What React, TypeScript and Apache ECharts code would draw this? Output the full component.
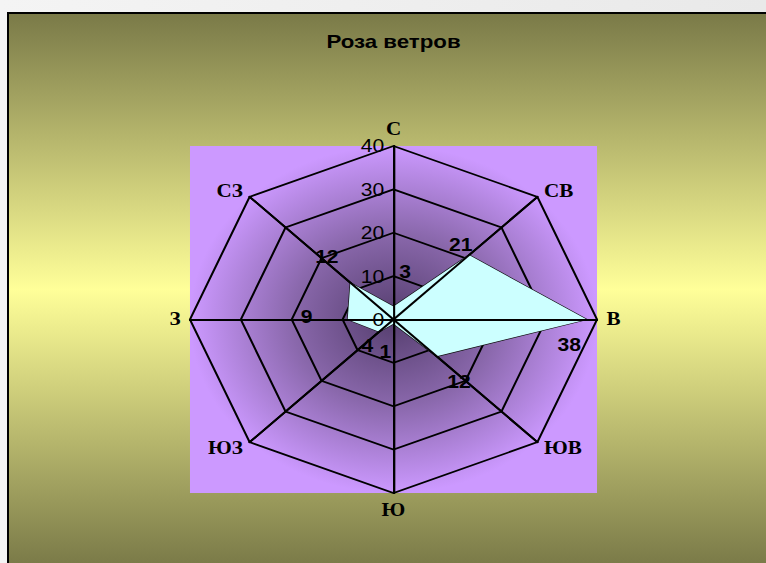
import React, { useEffect, useRef } from 'react';
import * as echarts from 'echarts';

// ---- data (compass order, clockwise from north) ----
const directions = ['С', 'СВ', 'В', 'ЮВ', 'Ю', 'ЮЗ', 'З', 'СЗ'];
const frequencies = [3, 21, 38, 12, 1, 4, 9, 12];
const axisMax = 40;
const axisSplits = 4;
const chartTitle = 'Роза ветров';

// label nudges (px) for each direction's data label, compass order
const labelOffsets = [
  [10, -35], [-7, -11], [-15, 25], [19, 25], [-7, 28], [-10, 14], [-35, -3], [-20, -26],
];

// ---- layout ----
const PAGE_W = 766;
const PAGE_H = 563;
const SX = 1.173; // horizontal stretch of the original picture
const CHART_W = PAGE_W / SX;
const CX = 393.5 / SX;
const CY = 319.5;
const R = 173.5;

// ECharts lays radar indicators counter-clockwise from the top
const order = [0, 7, 6, 5, 4, 3, 2, 1];

const SANS = 'Liberation Sans, Arial, sans-serif';
const SERIF = 'Liberation Serif, Times New Roman, serif';

export default function App() {
  const ref = useRef<HTMLDivElement>(null);

  useEffect(() => {
    const chart = echarts.init(ref.current!, null, { renderer: 'svg' });
    const indNames = order.map((i) => directions[i]);
    const vals = order.map((i) => frequencies[i]);

    const baseIndicator = indNames.map((name) => ({ name, min: 0, max: axisMax }));
    const overlayIndicator = indNames.map((name, k) => ({
      name,
      min: 0,
      max: axisMax,
      axisLabel: { show: k === 0 },
    }));

    const labelItems = order.map((src, k) => ({
      value: order.map((_, j) => (j === k ? frequencies[src] : null)),
      symbol: 'circle',
      symbolSize: 0,
      itemStyle: { color: 'rgba(0,0,0,0)' },
      lineStyle: { width: 0, opacity: 0 },
      label: {
        show: true,
        position: 'inside',
        offset: labelOffsets[src],
        color: '#000',
        fontSize: 18,
        fontWeight: 'bold',
        fontFamily: SANS,
        formatter: (p: any) =>
          p.value == null || (typeof p.value === 'number' && isNaN(p.value)) ? '' : String(p.value),
      },
    }));

    const radarCommon = {
      center: [CX, CY],
      radius: R,
      startAngle: 90,
      splitNumber: axisSplits,
      shape: 'polygon',
    };

    chart.setOption({
      animation: false,
      backgroundColor: 'transparent',
      title: {
        text: chartTitle,
        left: CX,
        textAlign: 'center',
        top: 32,
        padding: 0,
        textStyle: { fontSize: 19, fontWeight: 'bold', fontFamily: SANS, color: '#000' },
      },
      graphic: {
        elements: [
          {
            type: 'rect',
            z: 0,
            silent: true,
            shape: { x: CX - R, y: CY - R, width: 2 * R, height: 2 * R },
            style: {
              fill: new echarts.graphic.RadialGradient(0.5, 0.5, 0.5, [
                { offset: 0, color: '#553e6e' },
                { offset: 0.5, color: '#8a68ac' },
                { offset: 1, color: '#cc99ff' },
              ]),
            },
          },
        ],
      },
      radar: [
        {
          ...radarCommon,
          z: 2,
          indicator: baseIndicator,
          nameGap: 8,
          axisName: { color: '#000', fontSize: 18, fontWeight: 'bold', fontFamily: SERIF },
          axisLine: { show: true, lineStyle: { color: '#000', width: 1.8 } },
          splitLine: { show: true, lineStyle: { color: '#000', width: 1.8 } },
          splitArea: { show: false },
          axisTick: { show: false },
          axisLabel: { show: false },
        },
        {
          ...radarCommon,
          z: 4,
          indicator: overlayIndicator,
          axisName: { show: false },
          axisLine: { show: true, lineStyle: { color: '#000', width: 1.8 } },
          splitLine: { show: false },
          splitArea: { show: false },
          axisTick: { show: false },
          axisLabel: { show: false, color: '#000', fontSize: 18, fontFamily: SANS, margin: 8 },
        },
      ],
      series: [
        {
          type: 'radar',
          radarIndex: 0,
          z: 3,
          silent: true,
          data: [
            {
              value: vals,
              name: 'Роза ветров',
              symbol: 'none',
              lineStyle: { color: '#111', width: 1.2 },
              areaStyle: { color: '#ccffff', opacity: 1 },
              label: { show: false },
            },
            ...labelItems,
          ],
        },
      ],
    });
    return () => chart.dispose();
  }, []);

  return (
    <div
      style={{
        position: 'fixed',
        left: 0,
        top: 0,
        width: PAGE_W,
        height: PAGE_H,
        overflow: 'hidden',
        background: 'linear-gradient(to right, #f4f4f4, #e9e9e9)',
      }}
    >
      <div
        style={{
          position: 'absolute',
          left: 7,
          top: 12,
          width: PAGE_W,
          height: 551,
          borderLeft: '2px solid #000',
          borderTop: '2px solid #000',
          background: 'linear-gradient(to bottom, #7a7a48 0%, #ffff99 50%, #7a7a48 100%)',
        }}
      />
      <div
        ref={ref}
        style={{
          position: 'absolute',
          left: 0,
          top: 0,
          width: CHART_W,
          height: PAGE_H,
          transform: `scaleX(${SX})`,
          transformOrigin: '0 0',
        }}
      />
    </div>
  );
}
